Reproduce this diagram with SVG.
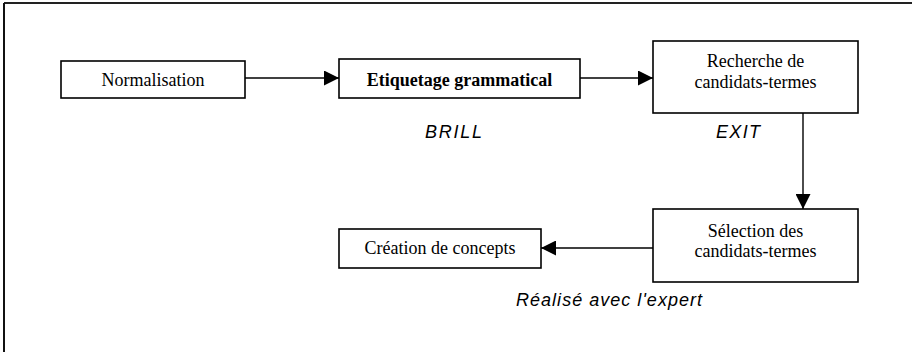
<svg xmlns="http://www.w3.org/2000/svg" width="912" height="355" viewBox="0 0 912 355">
<style>
.box{fill:#fff;stroke:#000;stroke-width:1.6}
.lbl{font-family:"Liberation Serif","Times New Roman",serif;font-size:18px;fill:#000;text-anchor:middle}
.note{font-family:"Liberation Sans",Arial,sans-serif;font-size:18px;font-style:italic;fill:#000}
.conn{stroke:#000;stroke-width:1.4;fill:none;marker-end:url(#arr)}
</style>
<defs>
<marker id="arr" markerUnits="userSpaceOnUse" markerWidth="15" markerHeight="15" refX="15" refY="7.5" orient="auto">
<path d="M0,0 L15,7.5 L0,15 Z" fill="#000"/>
</marker>
</defs>
<rect x="0" y="0" width="912" height="355" fill="#fff"/>
<g id="frame">
<line x1="4" y1="3" x2="912" y2="3" stroke="#222" stroke-width="2"/>
<line x1="4" y1="3" x2="4" y2="352" stroke="#111" stroke-width="2"/>
</g>
<g id="connectors">
<line class="conn" x1="245" y1="78" x2="339" y2="78"/>
<line class="conn" x1="580" y1="78" x2="653" y2="78"/>
<line class="conn" x1="803" y1="113" x2="803" y2="209"/>
<line class="conn" x1="653" y1="248" x2="541" y2="248"/>
</g>
<g id="normalisation">
<rect class="box" x="61" y="61" width="184" height="37"/>
<text class="lbl" x="153" y="86">Normalisation</text>
</g>
<g id="etiquetage">
<rect class="box" x="339" y="59" width="241" height="39"/>
<text class="lbl" x="459.5" y="86" font-weight="bold">Etiquetage grammatical</text>
</g>
<g id="recherche">
<rect class="box" x="653" y="41" width="205" height="72"/>
<text class="lbl" x="755.5" y="67">Recherche de</text>
<text class="lbl" x="755.5" y="88">candidats-termes</text>
</g>
<g id="selection">
<rect class="box" x="653" y="209" width="205" height="73"/>
<text class="lbl" x="755.5" y="237">Sélection des</text>
<text class="lbl" x="755.5" y="257">candidats-termes</text>
</g>
<g id="creation">
<rect class="box" x="339" y="229" width="202" height="39"/>
<text class="lbl" x="440" y="254">Création de concepts</text>
</g>
<g id="notes">
<text class="note" x="425" y="138" textLength="57">BRILL</text>
<text class="note" x="716" y="138" textLength="44">EXIT</text>
<text class="note" x="516" y="306" textLength="186">Réalisé avec l'expert</text>
</g>
</svg>
